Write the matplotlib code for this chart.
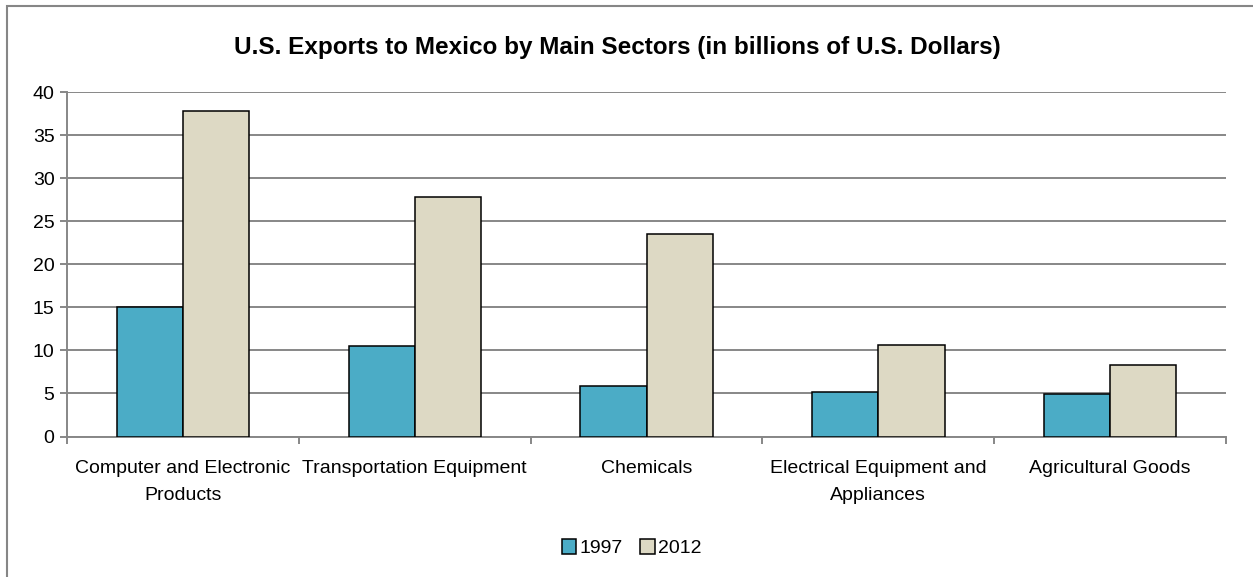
import matplotlib.pyplot as plt
import numpy as np
from matplotlib.patches import Rectangle

plt.rcParams['font.family'] = ['Liberation Sans Narrow', 'Liberation Sans', 'DejaVu Sans']

# data (billions of U.S. dollars)
sectors = ['Computer and Electronic\nProducts', 'Transportation Equipment', 'Chemicals',
           'Electrical Equipment and\nAppliances', 'Agricultural Goods']
exports_1997 = [15.0, 10.5, 5.9, 5.2, 4.9]
exports_2012 = [37.9, 27.9, 23.6, 10.6, 8.3]
years = ['1997', '2012']
colors = ['#4BACC6', '#DDD9C4']
yticks = [0, 5, 10, 15, 20, 25, 30, 35, 40]

fig = plt.figure(figsize=(12.53, 5.77), dpi=100)
ax = fig.add_axes([0.0535, 0.2435, 0.925, 0.5962])

x = np.arange(len(sectors))
w = 1 / 3.5   # excel style gap width 150%
ax.bar(x - w / 2, exports_1997, w, color=colors[0], edgecolor='black', linewidth=1.1, label=years[0], zorder=3)
ax.bar(x + w / 2, exports_2012, w, color=colors[1], edgecolor='black', linewidth=1.1, label=years[1], zorder=3)

grid_col = '#878787'
ax.set_xlim(-0.5, len(sectors) - 0.5)
ax.set_ylim(0, 40)
ax.set_yticks(yticks)
ax.yaxis.grid(True, color=grid_col, linewidth=1.4, zorder=0)
ax.tick_params(axis='y', length=5, width=1.4, color=grid_col, labelsize=14, pad=4)

ax.set_xticks(x)
ax.set_xticklabels(sectors, fontsize=14, linespacing=1.75)
ax.tick_params(axis='x', which='major', length=0, pad=17)
ax.set_xticks(np.arange(len(sectors) + 1) - 0.5, minor=True)
ax.tick_params(axis='x', which='minor', length=5, width=1.4, color=grid_col)

for s in ['top', 'right']:
    ax.spines[s].set_visible(False)
for s in ['left', 'bottom']:
    ax.spines[s].set_color(grid_col)
    ax.spines[s].set_linewidth(1.4)

fig.text(0.493, 0.918, 'U.S. Exports to Mexico by Main Sectors (in billions of U.S. Dollars)',
         ha='center', va='center', fontsize=17.5, fontweight='bold')

leg = ax.legend(loc='center', bbox_to_anchor=(0.487, -0.325), ncol=2, frameon=False,
                fontsize=14, handlelength=0.75, handleheight=0.75, handletextpad=0.15,
                columnspacing=0.9)

# chart area border
fig.patches.append(Rectangle((7 / 1253, -0.1), 1.2, 1 - 6 / 577 + 0.1, transform=fig.transFigure,
                             fill=False, edgecolor='#868686', linewidth=1.5))

fig.savefig('out.png', dpi=100)
